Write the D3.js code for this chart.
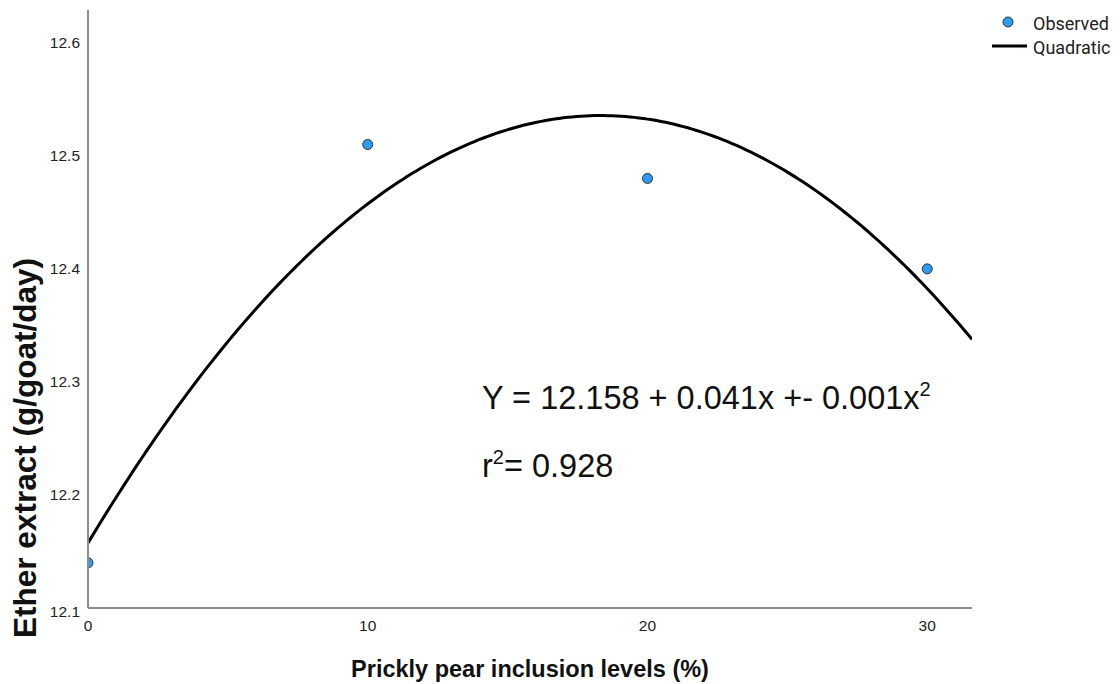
<!DOCTYPE html>
<html>
<head>
<meta charset="utf-8">
<script src="https://cdn.jsdelivr.net/npm/d3@7"></script>
<style>
  html, body { margin: 0; padding: 0; background: #fff; }
  svg { display: block; }
  .tick-label { font-family: "Liberation Sans", Arial, sans-serif; font-size: 15.5px; fill: #222; }
  .axis-title { font-family: "Liberation Sans", Arial, sans-serif; font-weight: bold; fill: #111; }
  .legend-text { font-family: Roboto, sans-serif; font-size: 18px; fill: #222; }
  .eq { font-family: "Liberation Sans", Arial, sans-serif; font-size: 32.5px; fill: #111; }
</style>
</head>
<body>
<div id="chart"></div>
<script>
// Observed points
const levels = [0, 10, 20, 30];
const etherExtract = [12.14, 12.51, 12.48, 12.40];

// Axis ticks
const xTicks = [0, 10, 20, 30];
const yTicks = [12.1, 12.2, 12.3, 12.4, 12.5, 12.6];

const legendItems = ["Observed", "Quadratic"];

const width = 1120;
const height = 684;

const svg = d3.select("#chart")
  .append("svg")
  .attr("width", width)
  .attr("height", height);

// plot area in pixels
const plotLeft = 88, plotRight = 972, plotTop = 10, plotBottom = 608;

const x = d3.scaleLinear().domain([0, 31.6]).range([plotLeft, plotRight]);
const y = d3.scaleLinear().domain([12.1, 12.629]).range([plotBottom, plotTop]);

// least squares quadratic fit of the observed points
function quadFit(xs, ys) {
  const n = xs.length;
  let s = [0, 0, 0, 0, 0], t = [0, 0, 0];
  for (let i = 0; i < n; i++) {
    for (let k = 0; k < 5; k++) s[k] += Math.pow(xs[i], k);
    for (let k = 0; k < 3; k++) t[k] += ys[i] * Math.pow(xs[i], k);
  }
  const m = [[s[0], s[1], s[2], t[0]], [s[1], s[2], s[3], t[1]], [s[2], s[3], s[4], t[2]]];
  for (let c = 0; c < 3; c++) {
    for (let r = c + 1; r < 3; r++) {
      const f = m[r][c] / m[c][c];
      for (let k = c; k < 4; k++) m[r][k] -= f * m[c][k];
    }
  }
  const b = [0, 0, 0];
  for (let r = 2; r >= 0; r--) {
    let v = m[r][3];
    for (let k = r + 1; k < 3; k++) v -= m[r][k] * b[k];
    b[r] = v / m[r][r];
  }
  return b;
}
const coef = quadFit(levels, etherExtract);
const fitted = d3.range(0, 200).map(i => {
  const xv = x.domain()[1] * i / 199;
  return [xv, coef[0] + coef[1] * xv + coef[2] * xv * xv];
});

// clip to the plot area
svg.append("clipPath").attr("id", "plot-clip")
  .append("rect")
  .attr("x", plotLeft).attr("y", plotTop)
  .attr("width", plotRight - plotLeft).attr("height", plotBottom - plotTop);

const plot = svg.append("g").attr("clip-path", "url(#plot-clip)");

plot.append("path")
  .datum(fitted)
  .attr("fill", "none")
  .attr("stroke", "#000")
  .attr("stroke-width", 3)
  .attr("d", d3.line().x(d => x(d[0])).y(d => y(d[1])));

plot.selectAll("circle")
  .data(levels)
  .enter().append("circle")
  .attr("cx", d => x(d))
  .attr("cy", (d, i) => y(etherExtract[i]))
  .attr("r", 5)
  .attr("fill", "#2e9bf0")
  .attr("stroke", "#333")
  .attr("stroke-width", 1);

// axes lines
svg.append("line")
  .attr("x1", plotLeft).attr("x2", plotLeft).attr("y1", plotTop).attr("y2", plotBottom)
  .attr("stroke", "#8c8c8c").attr("stroke-width", 2);
svg.append("line")
  .attr("x1", plotLeft).attr("x2", plotRight).attr("y1", plotBottom).attr("y2", plotBottom)
  .attr("stroke", "#8c8c8c").attr("stroke-width", 2);

// tick labels
svg.selectAll(".ytick")
  .data(yTicks)
  .enter().append("text")
  .attr("class", "tick-label ytick")
  .attr("x", 80)
  .attr("y", d => y(d) + 5.5 + (d === 12.1 ? 3 : 0))
  .attr("text-anchor", "end")
  .text(d => d.toFixed(1));

svg.selectAll(".xtick")
  .data(xTicks)
  .enter().append("text")
  .attr("class", "tick-label xtick")
  .attr("x", d => x(d))
  .attr("y", 631)
  .attr("text-anchor", "middle")
  .text(d => d);

// axis titles
svg.append("text")
  .attr("class", "axis-title")
  .attr("x", (plotLeft + plotRight) / 2)
  .attr("y", 677)
  .attr("text-anchor", "middle")
  .style("font-size", "23.5px")
  .text("Prickly pear inclusion levels (%)");

svg.append("text")
  .attr("class", "axis-title")
  .attr("transform", "translate(36,448) rotate(-90)")
  .attr("text-anchor", "middle")
  .style("font-size", "31.5px")
  .text("Ether extract (g/goat/day)");

// equation
const eq = svg.append("text").attr("class", "eq").attr("x", 482).attr("y", 409);
eq.append("tspan").text("Y = 12.158 + 0.041x +- 0.001x");
eq.append("tspan").attr("dy", -13).style("font-size", "20px").text("2");

const r2 = svg.append("text").attr("class", "eq").attr("x", 482).attr("y", 477);
r2.append("tspan").text("r");
r2.append("tspan").attr("dy", -13).style("font-size", "20px").text("2");
r2.append("tspan").attr("dy", 13).text("= 0.928");

// legend
const legend = svg.append("g");
legend.append("circle")
  .attr("cx", 1008).attr("cy", 22).attr("r", 5)
  .attr("fill", "#2e9bf0").attr("stroke", "#333").attr("stroke-width", 1);
legend.append("line")
  .attr("x1", 992).attr("x2", 1027).attr("y1", 46).attr("y2", 46)
  .attr("stroke", "#000").attr("stroke-width", 3);
legend.selectAll("text")
  .data(legendItems)
  .enter().append("text")
  .attr("class", "legend-text")
  .attr("x", 1033)
  .attr("y", (d, i) => 30 + i * 24)
  .text(d => d);
</script>
</body>
</html>
